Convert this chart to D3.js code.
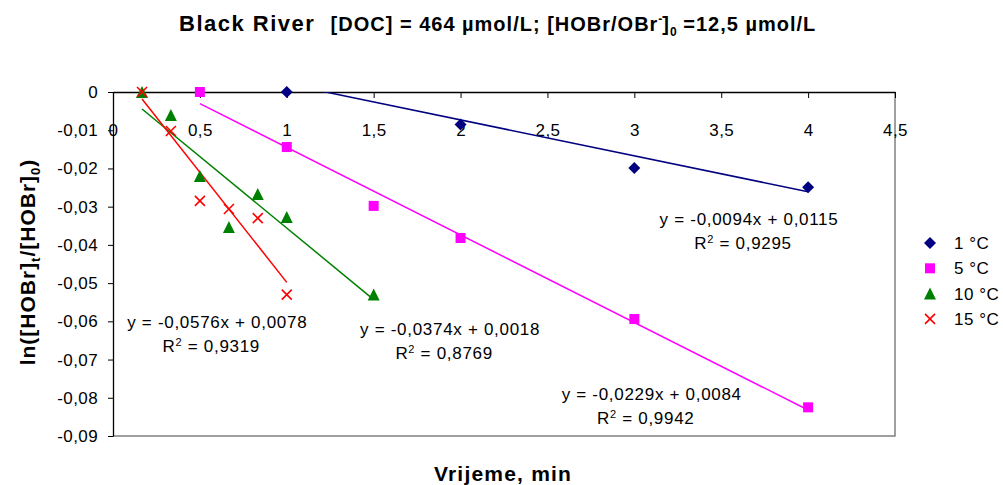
<!DOCTYPE html>
<html lang="en">
<head>
<meta charset="UTF-8">
<script src="https://d3js.org/d3.v7.min.js"></script>
<title>Black River</title>
<style>
  body { margin: 0; background: #fff; }
  text { font-family: "Liberation Sans", Arial, sans-serif; }
</style>
</head>
<body>
<div id="chart"></div>
<script>
// data
var seriesNames = ["1 °C", "5 °C", "10 °C", "15 °C"];
var seriesColors = ["#000080", "#ff00ff", "#008000", "#ff0000"];
var seriesShapes = ["diamond", "square", "triangle", "x"];

var x1 = [1, 2, 3, 4];
var y1 = [0, -0.0085, -0.0199, -0.0249];
var x5 = [0.5, 1, 1.5, 2, 3, 4];
var y5 = [0, -0.0144, -0.0298, -0.0382, -0.0594, -0.0825];
var x10 = [0.167, 0.333, 0.5, 0.667, 0.833, 1, 1.5];
var y10 = [0, -0.006, -0.022, -0.0353, -0.0267, -0.0327, -0.053];
var x15 = [0.167, 0.333, 0.5, 0.667, 0.833, 1];
var y15 = [0, -0.0102, -0.0285, -0.0306, -0.033, -0.053];

var slopes = [-0.0094, -0.0229, -0.0374, -0.0576];
var intercepts = [0.0115, 0.0084, 0.0018, 0.0078];
var eqLabels = ["y = -0,0094x + 0,0115", "y = -0,0229x + 0,0084", "y = -0,0374x + 0,0018", "y = -0,0576x + 0,0078"];
var r2Labels = ["0,9295", "0,9942", "0,8769", "0,9319"];
// where the equation boxes sit, in data units (centre x, y of first line)
var eqX = [3.66, 3.1, 1.94, 0.6];
var eqY = [-0.0349, -0.0805, -0.0636, -0.0618];

var xTicks = [0, 0.5, 1, 1.5, 2, 2.5, 3, 3.5, 4, 4.5];
var yTicks = [0, -0.01, -0.02, -0.03, -0.04, -0.05, -0.06, -0.07, -0.08, -0.09];

var allX = [x1, x5, x10, x15];
var allY = [y1, y5, y10, y15];

var width = 1003, height = 485;
var mLeft = 113, mRight = 895, mTop = 92, mBottom = 436;

var fmt = function(v) { return String(+v.toFixed(2)).replace(".", ","); };

var x = d3.scaleLinear().domain([0, 4.5]).range([mLeft, mRight]);
var y = d3.scaleLinear().domain([-0.09, 0]).range([mBottom, mTop]);

var svg = d3.select("#chart").append("svg")
    .attr("width", width).attr("height", height);

svg.append("defs").append("clipPath").attr("id", "plot")
  .append("rect").attr("x", mLeft).attr("y", mTop)
  .attr("width", mRight - mLeft).attr("height", mBottom - mTop);

// plot area border (grey right & bottom)
svg.append("path")
   .attr("d", `M${mRight},${mTop}V${mBottom}H${mLeft}`)
   .attr("fill", "none").attr("stroke", "#808080").attr("stroke-width", 1.5);

// y axis on the left
svg.append("g")
   .attr("transform", `translate(${mLeft},0)`)
   .call(d3.axisLeft(y).tickValues(yTicks).tickFormat(fmt).tickSize(5).tickSizeOuter(0).tickPadding(10))
   .call(g => g.select(".domain").attr("stroke", "#000").attr("stroke-width", 1.3))
   .call(g => g.selectAll(".tick line").attr("stroke", "#000"))
   .call(g => g.selectAll("text").attr("font-size", 17).attr("fill", "#000").attr("letter-spacing", 0.4)
      .attr("font-family", "Liberation Sans, Arial, sans-serif"));

// x axis along y = 0, labels pushed down
svg.append("g")
   .attr("transform", `translate(0,${mTop})`)
   .call(d3.axisBottom(x).tickValues(xTicks).tickFormat(fmt).tickSize(6).tickSizeOuter(0).tickPadding(26))
   .call(g => g.select(".domain").attr("stroke", "#000").attr("stroke-width", 1.3))
   .call(g => g.selectAll(".tick line").attr("stroke", "#000"))
   .call(g => g.selectAll("text").attr("font-size", 17).attr("fill", "#000").attr("letter-spacing", 0.4)
      .attr("font-family", "Liberation Sans, Arial, sans-serif"));

// trend lines
var plot = svg.append("g").attr("clip-path", "url(#plot)");
seriesNames.forEach(function(n, i) {
  var xmin = d3.min(allX[i]), xmax = d3.max(allX[i]);
  var pts = [xmin, xmax].map(v => [x(v), y(slopes[i] * v + intercepts[i])]);
  plot.append("path")
      .attr("d", d3.line()(pts))
      .attr("stroke", seriesColors[i]).attr("stroke-width", 1.5).attr("fill", "none");
});

function marker(g, shape, color) {
  if (shape === "diamond") {
    g.append("path").attr("d", "M0,-6L6,0L0,6L-6,0Z").attr("fill", color);
  } else if (shape === "square") {
    g.append("rect").attr("x", -5).attr("y", -5).attr("width", 10).attr("height", 10).attr("fill", color);
  } else if (shape === "triangle") {
    g.append("path").attr("d", "M0,-6L6,6L-6,6Z").attr("fill", color);
  } else {
    g.append("path").attr("d", "M-5,-5L5,5M-5,5L5,-5").attr("stroke", color).attr("stroke-width", 1.6);
  }
}

// points
seriesNames.forEach(function(n, i) {
  allX[i].forEach(function(xv, j) {
    var g = svg.append("g").attr("transform", `translate(${x(xv)},${y(allY[i][j])})`);
    marker(g, seriesShapes[i], seriesColors[i]);
  });
});

// regression labels
seriesNames.forEach(function(n, i) {
  var t = svg.append("text").attr("text-anchor", "middle").attr("font-size", 17).attr("fill", "#000")
     .attr("letter-spacing", 0.7).attr("x", x(eqX[i])).attr("y", y(eqY[i]));
  t.text(eqLabels[i]);
  var r = svg.append("text").attr("text-anchor", "middle").attr("font-size", 17).attr("fill", "#000")
     .attr("letter-spacing", 0.7).attr("x", x(eqX[i]) - 6).attr("y", y(eqY[i]) + 24);
  r.append("tspan").text("R");
  r.append("tspan").attr("font-size", 11).attr("dy", -6).text("2");
  r.append("tspan").attr("dy", 6).text(" = " + r2Labels[i]);
});

// legend
var legend = svg.append("g").attr("transform", "translate(930,243)");
seriesNames.forEach(function(n, i) {
  var g = legend.append("g").attr("transform", `translate(0,${i * 25.3})`);
  marker(g, seriesShapes[i], seriesColors[i]);
  g.append("text").attr("x", 24).attr("y", 6).attr("font-size", 17).attr("letter-spacing", 0.5).text(n);
});

// title
var title = svg.append("text").attr("x", 179).attr("y", 31)
   .attr("font-weight", "bold").style("white-space", "pre");
title.append("tspan").attr("font-size", 22).attr("letter-spacing", 1.5).text("Black River  ");
title.append("tspan").attr("font-size", 20).attr("letter-spacing", 1).text("[DOC] = 464 µmol/L; [HOBr/OBr");
title.append("tspan").attr("font-size", 12).attr("dy", -8).text("-");
title.append("tspan").attr("font-size", 20).attr("dy", 8).attr("letter-spacing", 1).text("]");
title.append("tspan").attr("font-size", 12).attr("dy", 5).text("0");
title.append("tspan").attr("font-size", 20).attr("dy", -5).attr("letter-spacing", 1).text(" =12,5 µmol/L");

// axis titles
svg.append("text").attr("x", 503).attr("y", 481).attr("text-anchor", "middle")
   .attr("font-weight", "bold").attr("font-size", 21).attr("letter-spacing", 1.2).text("Vrijeme, min");

var yl = svg.append("text").attr("transform", "translate(35,262) rotate(-90)")
   .attr("text-anchor", "middle").attr("font-weight", "bold").attr("font-size", 21)
   .attr("letter-spacing", 1);
yl.append("tspan").text("ln([HOBr]");
yl.append("tspan").attr("font-size", 13).attr("dy", 5).text("t");
yl.append("tspan").attr("dy", -5).text("/[HOBr]");
yl.append("tspan").attr("font-size", 13).attr("dy", 5).text("0");
yl.append("tspan").attr("dy", -5).text(")");
</script>
</body>
</html>
